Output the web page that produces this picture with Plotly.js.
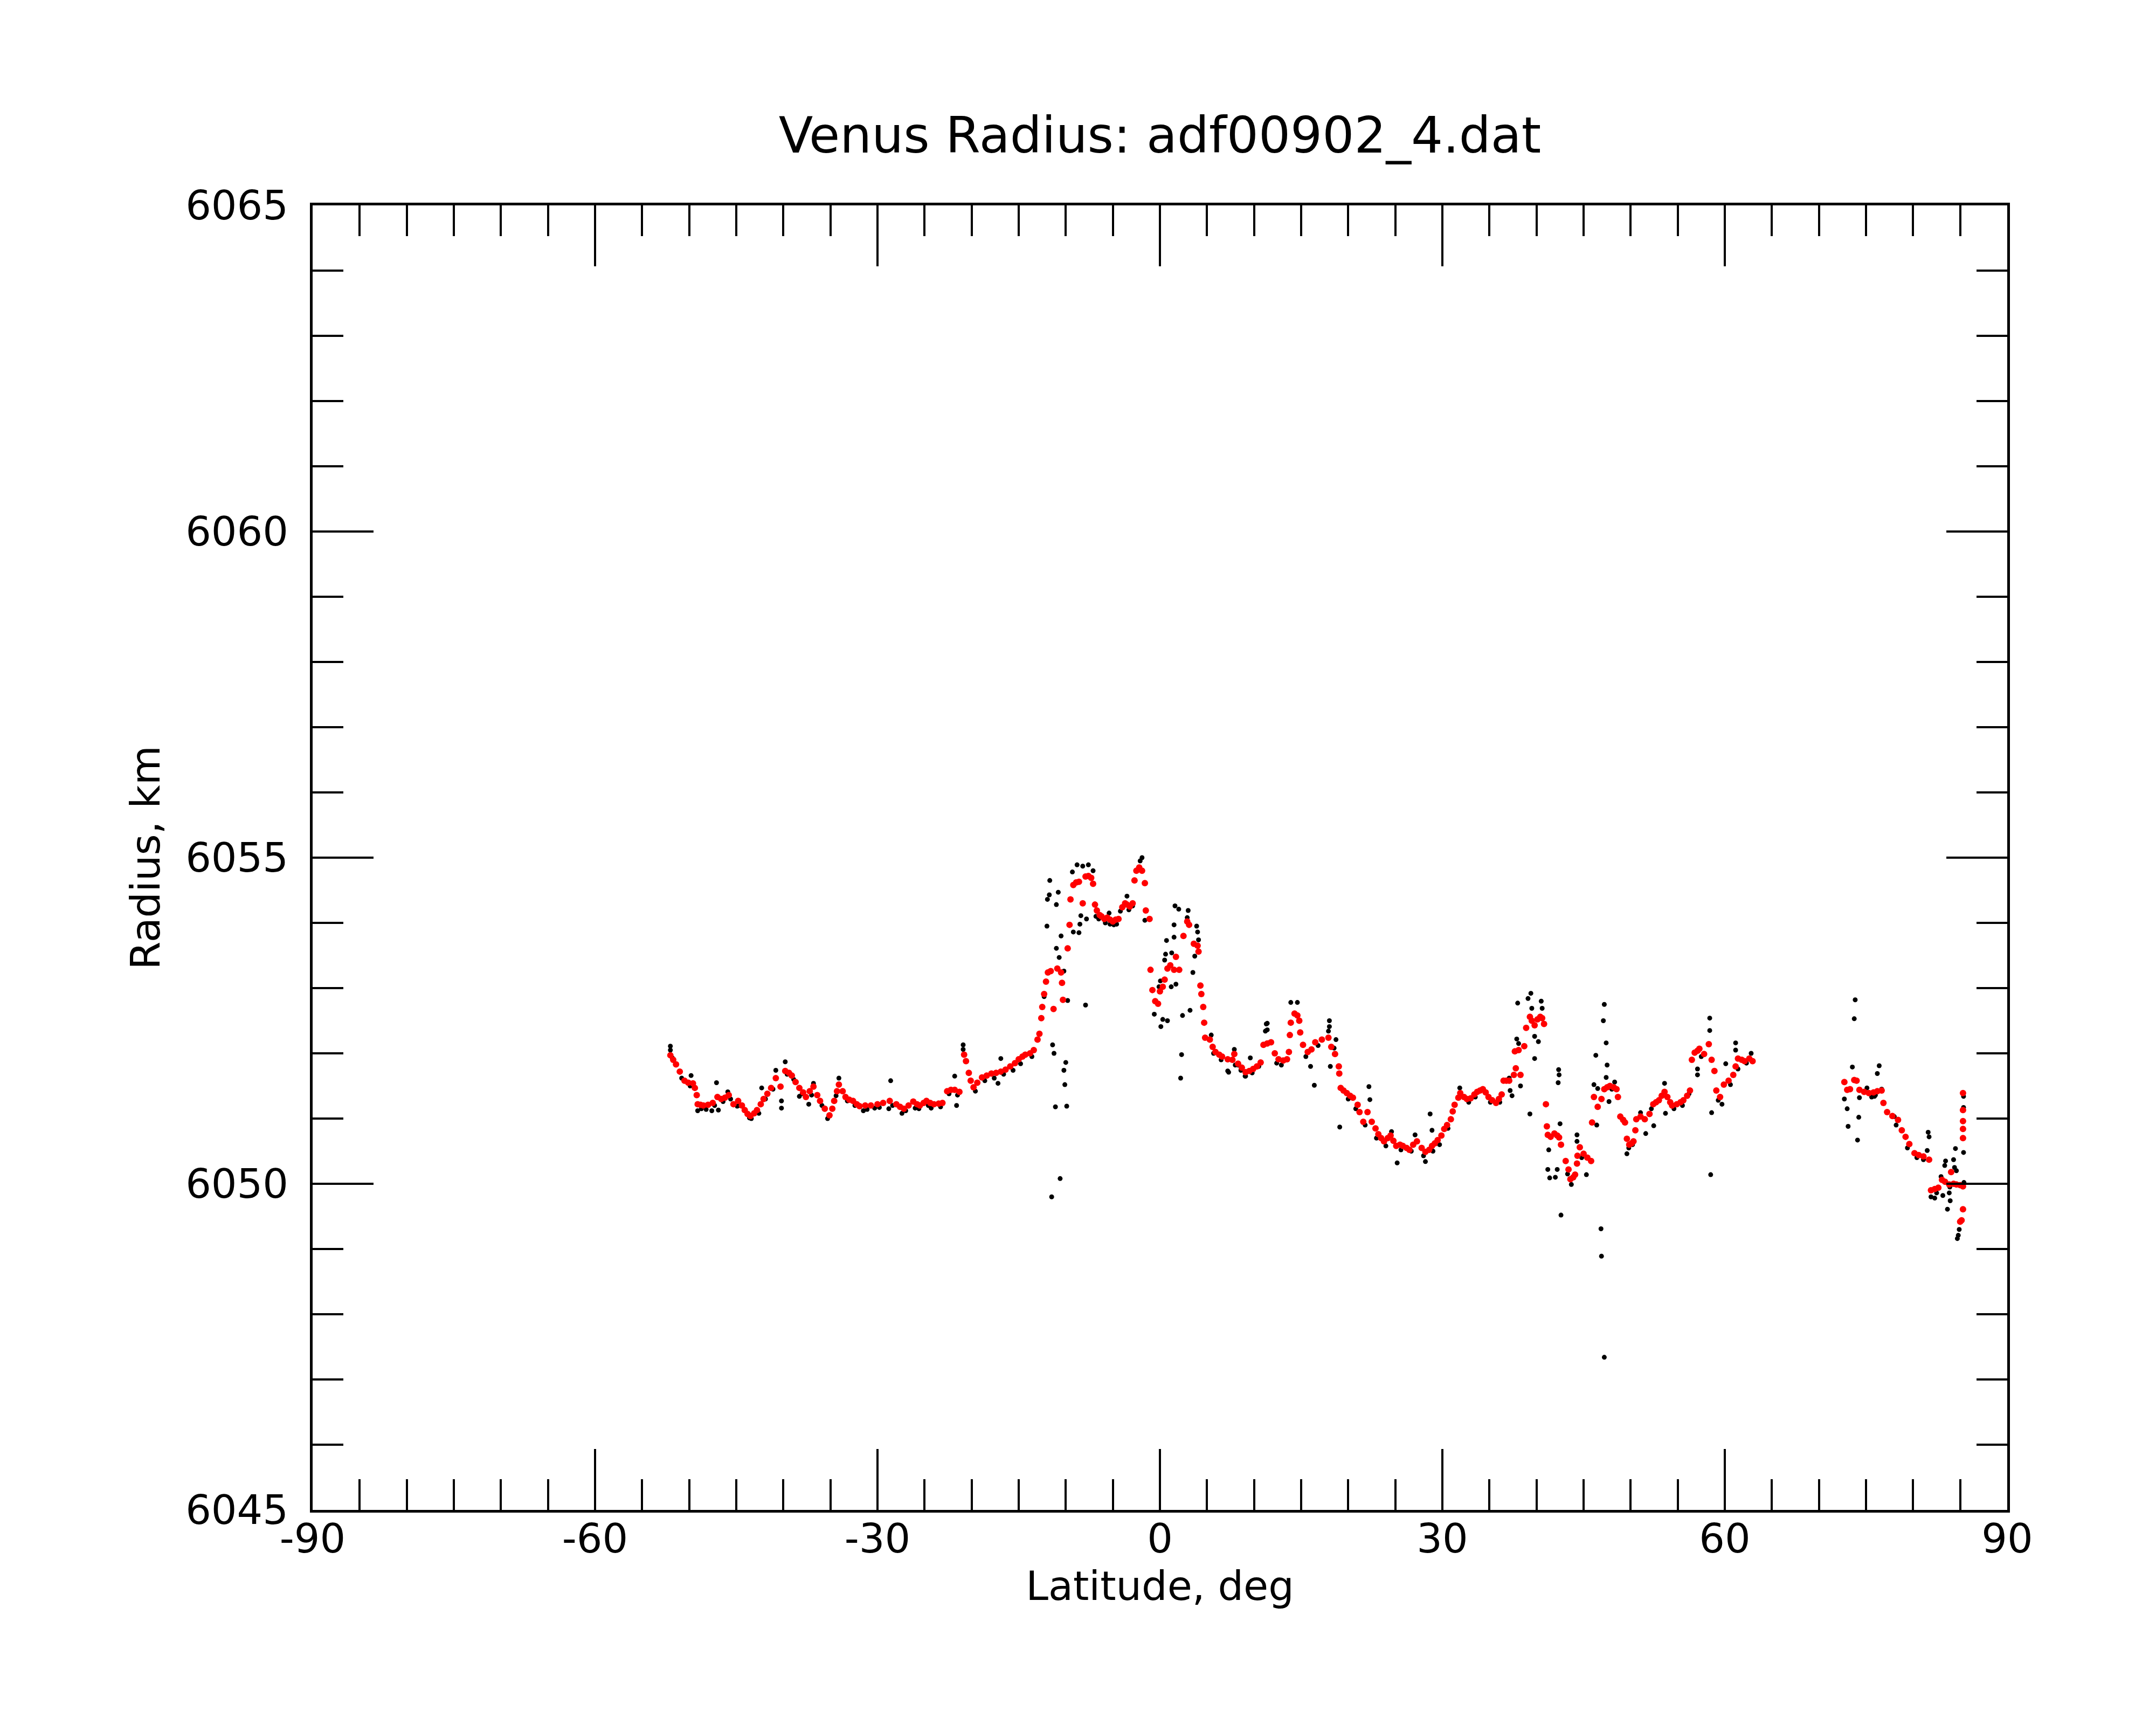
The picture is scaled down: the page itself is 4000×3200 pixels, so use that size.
<!DOCTYPE html>
<html>
<head>
<meta charset="utf-8">
<title>Venus Radius</title>
<script src="https://cdn.plot.ly/plotly-3.0.1.min.js"></script>
<style>
  body { margin: 0; background: #fff; }
  #container { width: 4000px; height: 3200px; }
</style>
</head>
<body>
<div id="container"></div>
<script>
// smoothed radius (red), [latitude deg, radius km]
const smoothSouth = [
  [-52.0, 6051.97], [-51.7, 6051.90], [-51.4, 6051.83], [-51.0, 6051.72], [-50.5, 6051.58],
  [-50.1, 6051.55], [-49.6, 6051.54], [-49.4, 6051.47], [-49.2, 6051.36], [-49.1, 6051.22],
  [-48.8, 6051.21], [-48.5, 6051.20], [-48.0, 6051.21], [-47.5, 6051.24], [-47.0, 6051.33],
  [-46.6, 6051.30], [-46.2, 6051.32], [-45.8, 6051.36], [-45.3, 6051.22], [-44.8, 6051.27],
  [-44.4, 6051.20], [-44.1, 6051.13], [-43.8, 6051.07], [-43.5, 6051.04], [-43.1, 6051.08],
  [-42.8, 6051.13], [-42.4, 6051.22], [-42.1, 6051.30], [-41.7, 6051.38], [-41.3, 6051.47],
  [-40.8, 6051.62], [-40.3, 6051.49], [-39.8, 6051.73], [-39.4, 6051.70], [-39.1, 6051.66],
  [-38.7, 6051.56], [-38.3, 6051.47], [-37.9, 6051.40], [-37.6, 6051.33], [-37.2, 6051.42],
  [-36.8, 6051.49], [-36.4, 6051.36], [-36.1, 6051.27], [-35.6, 6051.15], [-35.1, 6051.05],
  [-34.8, 6051.15], [-34.6, 6051.27], [-34.3, 6051.42], [-34.1, 6051.52], [-33.7, 6051.42],
  [-33.4, 6051.33], [-33.0, 6051.29], [-32.6, 6051.27], [-32.2, 6051.22], [-31.9, 6051.19],
  [-31.3, 6051.20], [-30.7, 6051.20], [-30.0, 6051.22], [-29.4, 6051.24], [-28.7, 6051.27],
  [-28.0, 6051.22], [-27.6, 6051.18], [-27.2, 6051.15], [-26.7, 6051.20], [-26.2, 6051.26],
  [-25.8, 6051.22], [-25.5, 6051.20], [-25.1, 6051.24], [-24.8, 6051.27], [-24.4, 6051.24],
  [-24.0, 6051.22], [-23.5, 6051.23], [-23.1, 6051.24], [-22.6, 6051.42], [-22.2, 6051.44],
  [-21.8, 6051.44], [-21.3, 6051.41], [-20.8, 6051.98], [-20.6, 6051.88], [-20.3, 6051.70],
  [-20.1, 6051.58], [-19.8, 6051.48], [-19.4, 6051.55], [-18.9, 6051.63], [-18.4, 6051.66],
  [-17.9, 6051.69], [-17.4, 6051.70], [-16.9, 6051.72], [-16.4, 6051.75], [-15.9, 6051.80],
  [-15.4, 6051.85], [-15.0, 6051.91], [-14.6, 6051.95], [-14.3, 6051.98], [-13.8, 6052.00],
  [-13.4, 6052.05], [-13.0, 6052.21], [-12.8, 6052.30], [-12.6, 6052.54], [-12.5, 6052.71],
  [-12.3, 6052.91], [-12.1, 6053.10], [-11.9, 6053.24], [-11.6, 6053.26], [-11.3, 6052.68],
  [-10.9, 6053.30], [-10.5, 6053.24], [-10.4, 6053.08], [-10.3, 6052.82], [-9.8, 6053.61],
  [-9.6, 6053.97], [-9.5, 6054.36], [-9.2, 6054.58], [-8.9, 6054.62], [-8.6, 6054.63],
  [-8.2, 6054.30], [-7.9, 6054.71], [-7.6, 6054.72], [-7.3, 6054.69], [-7.1, 6054.60],
  [-6.9, 6054.28], [-6.7, 6054.19], [-6.4, 6054.12], [-6.2, 6054.10], [-5.9, 6054.06],
  [-5.6, 6054.08], [-5.3, 6054.05], [-5.0, 6054.02], [-4.7, 6054.05], [-4.4, 6054.06],
  [-4.0, 6054.24], [-3.7, 6054.30], [-3.5, 6054.28], [-3.2, 6054.25], [-2.9, 6054.30],
  [-2.7, 6054.65], [-2.5, 6054.80], [-2.2, 6054.85], [-1.9, 6054.80], [-1.6, 6054.61],
  [-1.5, 6054.19], [-1.1, 6054.06], [-1.0, 6053.28], [-0.8, 6052.97], [-0.5, 6052.80],
  [-0.2, 6052.76]
];

const smoothNorth = [
  [0.0, 6052.95], [0.3, 6053.02], [0.5, 6053.13], [0.8, 6053.30], [1.1, 6053.35],
  [1.5, 6053.28], [1.7, 6053.48], [2.05, 6053.28], [2.5, 6053.80], [2.9, 6054.02],
  [3.1, 6053.97], [3.6, 6053.68], [4.0, 6053.65], [4.1, 6053.56], [4.3, 6053.04],
  [4.4, 6052.91], [4.6, 6052.71], [4.7, 6052.47], [4.8, 6052.24], [5.3, 6052.21],
  [5.6, 6052.10], [5.9, 6052.02], [6.3, 6051.98], [6.6, 6051.95], [7.2, 6051.91],
  [7.7, 6051.90], [7.9, 6051.99], [8.3, 6051.84], [8.7, 6051.78], [9.1, 6051.71],
  [9.5, 6051.73], [9.9, 6051.76], [10.3, 6051.80], [10.7, 6051.86], [11.0, 6052.13],
  [11.4, 6052.15], [11.8, 6052.17], [12.2, 6052.00], [12.6, 6051.91], [13.1, 6051.89],
  [13.5, 6051.91], [13.7, 6052.02], [13.8, 6052.28], [13.9, 6052.47], [14.3, 6052.61],
  [14.6, 6052.58], [14.8, 6052.50], [14.9, 6052.32], [15.2, 6052.13], [15.7, 6052.02],
  [16.1, 6052.06], [16.5, 6052.17], [17.2, 6052.21], [17.9, 6052.24], [18.2, 6052.10],
  [18.6, 6051.99], [19.0, 6051.80], [19.05, 6051.69], [19.2, 6051.47], [19.5, 6051.43],
  [19.85, 6051.39], [20.2, 6051.35], [20.5, 6051.32], [21.0, 6051.21], [21.2, 6051.10],
  [21.6, 6050.95], [22.05, 6051.10], [22.5, 6050.95], [22.9, 6050.85], [23.2, 6050.76],
  [23.5, 6050.70], [23.8, 6050.65], [24.2, 6050.70], [24.5, 6050.74], [24.8, 6050.66],
  [25.1, 6050.58], [25.5, 6050.60], [25.8, 6050.58], [26.2, 6050.55], [26.5, 6050.52],
  [26.9, 6050.60], [27.3, 6050.65], [27.8, 6050.55], [28.2, 6050.49], [28.6, 6050.52],
  [28.9, 6050.58], [29.2, 6050.62], [29.5, 6050.67], [29.9, 6050.74], [30.2, 6050.84],
  [30.5, 6050.90], [30.9, 6050.99], [31.1, 6051.11], [31.3, 6051.21], [31.7, 6051.32],
  [31.9, 6051.39], [32.3, 6051.33], [32.6, 6051.30], [33.0, 6051.31], [33.4, 6051.37],
  [33.7, 6051.41], [34.0, 6051.43], [34.3, 6051.45], [34.6, 6051.40], [34.9, 6051.33],
  [35.3, 6051.28], [35.7, 6051.24], [36.0, 6051.30], [36.3, 6051.37], [36.5, 6051.58],
  [36.8, 6051.58], [37.1, 6051.58], [37.6, 6051.67], [37.8, 6051.77], [38.3, 6051.67],
  [37.7, 6052.03], [38.1, 6052.05], [38.7, 6052.11], [38.9, 6052.39], [39.3, 6052.56],
  [39.5, 6052.50], [39.8, 6052.43], [40.1, 6052.52], [40.4, 6052.56], [40.6, 6052.54],
  [40.8, 6052.45], [41.0, 6051.22], [41.1, 6050.88], [41.2, 6050.75], [41.5, 6050.72],
  [41.9, 6050.77], [42.2, 6050.74], [42.4, 6050.71], [42.6, 6050.60], [43.1, 6050.35],
  [43.4, 6050.22], [43.6, 6050.07], [43.9, 6050.10], [44.1, 6050.14], [44.3, 6050.31],
  [44.35, 6050.43], [44.6, 6050.56], [45.0, 6050.46], [45.4, 6050.40], [45.8, 6050.35],
  [45.9, 6050.94], [46.1, 6051.33], [46.5, 6051.18], [46.9, 6051.30], [47.2, 6051.45],
  [47.5, 6051.48], [47.8, 6051.50], [48.2, 6051.48], [48.5, 6051.45], [48.65, 6051.33],
  [48.9, 6051.03], [49.2, 6050.98], [49.4, 6050.94], [49.6, 6050.69], [49.85, 6050.60],
  [50.1, 6050.62], [50.3, 6050.65], [50.5, 6050.82], [50.6, 6050.99], [51.05, 6051.03],
  [51.5, 6050.99], [52.0, 6051.07], [52.4, 6051.22], [52.7, 6051.25], [53.0, 6051.28],
  [53.3, 6051.35], [53.6, 6051.41], [53.9, 6051.33], [54.2, 6051.25], [54.4, 6051.20],
  [54.9, 6051.22], [55.3, 6051.25], [55.6, 6051.28], [56.0, 6051.35], [56.3, 6051.43],
  [56.5, 6051.90], [56.8, 6052.01], [57.1, 6052.04], [57.3, 6052.07], [57.8, 6051.99],
  [58.3, 6052.14], [58.6, 6051.90], [58.9, 6051.73], [59.1, 6051.43], [59.5, 6051.33],
  [59.9, 6051.52], [60.4, 6051.58], [60.9, 6051.67], [61.15, 6051.80], [61.4, 6051.92],
  [61.8, 6051.90], [62.1, 6051.88], [62.6, 6051.92], [62.95, 6051.88]
];

const smoothPolar = [
  [72.7, 6051.56], [73.0, 6051.44], [73.3, 6051.45], [73.75, 6051.59], [74.0, 6051.58],
  [74.3, 6051.44], [74.8, 6051.41], [75.3, 6051.39], [75.8, 6051.40], [76.2, 6051.42],
  [76.66, 6051.43], [76.85, 6051.24], [77.24, 6051.10], [77.8, 6051.04], [78.4, 6050.98],
  [78.8, 6050.82], [79.2, 6050.72], [79.6, 6050.61], [80.15, 6050.47], [80.6, 6050.44],
  [81.1, 6050.42], [81.7, 6050.37], [81.9, 6049.90], [82.3, 6049.92], [82.68, 6049.94],
  [83.07, 6050.06], [83.4, 6050.03], [83.84, 6049.99], [84.04, 6050.18], [84.3, 6050.00],
  [84.6, 6049.99], [85.0, 6049.98], [85.3, 6049.96], [85.3, 6051.39], [85.3, 6051.13],
  [85.3, 6050.96], [85.3, 6050.84], [85.3, 6050.70], [85.3, 6049.61], [85.0, 6049.42],
  [85.15, 6049.44]
];

// raw radius samples (black)
const rawSouth = [
  [-52.0, 6052.11], [-52.0, 6052.05], [-49.8, 6051.66], [-49.1, 6051.12], [-47.6, 6051.12],
  [-46.9, 6051.13], [-47.1, 6051.55], [-45.9, 6051.41], [-44.9, 6051.19], [-43.6, 6051.01],
  [-42.3, 6051.47], [-40.8, 6051.74], [-39.8, 6051.87], [-40.2, 6051.27], [-40.2, 6051.16],
  [-38.3, 6051.34], [-37.3, 6051.22], [-36.8, 6051.54], [-35.1, 6051.04], [-34.1, 6051.62],
  [-31.5, 6051.12], [-28.6, 6051.58], [-28.8, 6051.15], [-27.4, 6051.08], [-30.3, 6051.16],
  [-26.0, 6051.16], [-24.3, 6051.16], [-21.6, 6051.20], [-20.9, 6052.13], [-20.9, 6052.06],
  [-21.8, 6051.65], [-17.2, 6051.54], [-16.9, 6051.92],
  [-11.7, 6054.65], [-11.75, 6054.43], [-11.95, 6054.36], [-10.8, 6054.47], [-11.0, 6054.28],
  [-12.0, 6053.95], [-10.5, 6053.80], [-11.0, 6053.61], [-10.7, 6053.47], [-10.2, 6053.26],
  [-12.3, 6052.87], [-9.8, 6052.81], [-7.9, 6052.74], [-11.4, 6052.13], [-11.25, 6052.00],
  [-10.0, 6051.86], [-10.2, 6051.74], [-10.1, 6051.52], [-11.1, 6051.18], [-9.9, 6051.19],
  [-10.6, 6050.08], [-11.5, 6049.80],
  [-8.8, 6054.89], [-9.3, 6054.78], [-8.2, 6054.87], [-7.6, 6054.89], [-7.1, 6054.80],
  [-8.4, 6054.11], [-7.8, 6054.06], [-8.5, 6053.98], [-9.2, 6053.86], [-8.6, 6053.85],
  [-6.8, 6054.10], [-5.3, 6053.98], [-4.6, 6053.98], [-5.4, 6054.15], [-3.5, 6054.41],
  [-2.9, 6054.26], [-1.9, 6055.00], [-2.1, 6054.95], [-1.6, 6054.04]
];

const rawNorth = [
  [1.6, 6054.26], [2.0, 6054.21], [3.0, 6054.19], [2.9, 6054.08], [1.5, 6053.97],
  [0.7, 6053.73], [1.5, 6053.78], [3.9, 6053.95], [4.0, 6053.86], [4.1, 6053.74],
  [0.6, 6053.52], [1.25, 6053.54], [0.5, 6053.43], [3.7, 6053.49], [0.05, 6053.11],
  [3.5, 6053.24], [1.2, 6053.02], [1.7, 6053.06], [-0.1, 6053.02], [-0.6, 6052.60],
  [0.3, 6052.52], [0.8, 6052.50], [0.1, 6052.41], [2.4, 6052.58], [3.2, 6052.66],
  [2.3, 6051.98], [2.2, 6051.62], [5.45, 6052.28], [7.2, 6051.73], [7.9, 6052.06],
  [8.0, 6051.82], [9.1, 6051.65], [9.6, 6051.93], [11.3, 6052.45], [11.2, 6052.34],
  [13.9, 6052.78], [14.6, 6052.78], [14.25, 6052.61], [18.0, 6052.50], [18.0, 6052.41],
  [17.9, 6052.34], [18.7, 6052.21], [18.5, 6052.08], [11.4, 6052.46], [11.4, 6052.36],
  [16.0, 6051.80], [18.1, 6051.80], [16.4, 6051.51], [19.1, 6050.87], [22.2, 6051.49],
  [22.3, 6051.29], [28.7, 6051.07], [28.9, 6050.82], [25.2, 6050.32], [28.2, 6050.34],
  [31.85, 6051.47], [27.1, 6050.75], [24.6, 6050.80], [7.3, 6051.71], [9.05, 6051.65],
  [8.3, 6051.82],
  [39.4, 6052.92], [39.1, 6052.84], [38.0, 6052.77], [40.5, 6052.80], [40.6, 6052.69],
  [39.5, 6052.69], [39.8, 6052.26], [40.2, 6052.18], [39.8, 6051.92], [37.9, 6052.22],
  [38.1, 6052.15], [37.1, 6051.62], [37.4, 6051.35], [38.3, 6051.50], [37.2, 6051.43],
  [39.3, 6051.07], [42.35, 6051.75], [42.4, 6051.67], [42.3, 6051.55], [42.6, 6049.52],
  [41.3, 6050.52], [41.2, 6050.22], [42.2, 6050.22], [41.4, 6050.09], [42.0, 6050.10],
  [42.5, 6050.92], [44.3, 6050.75], [44.3, 6050.65], [45.3, 6050.14], [47.2, 6052.75],
  [47.1, 6052.50], [47.4, 6052.16], [47.5, 6051.82], [46.3, 6051.97], [47.4, 6051.63],
  [46.1, 6051.52], [46.5, 6051.46], [48.3, 6051.56], [47.7, 6051.26], [46.4, 6050.90],
  [46.85, 6049.31], [46.9, 6048.89], [47.2, 6047.34], [43.7, 6049.99], [49.6, 6050.46],
  [51.05, 6051.09], [51.6, 6050.77], [52.45, 6050.89], [53.7, 6051.08], [53.6, 6051.54],
  [57.1, 6051.67], [57.1, 6051.76], [58.4, 6052.54], [58.4, 6052.35], [58.6, 6051.09],
  [58.5, 6050.14], [60.1, 6051.84], [59.7, 6051.22], [61.15, 6052.16], [61.15, 6052.05],
  [61.4, 6051.76], [62.8, 6052.00]
];

const rawPolar = [
  [73.85, 6052.82], [73.75, 6052.53], [73.55, 6051.79], [72.7, 6051.30], [73.0, 6051.15],
  [73.1, 6050.88], [74.23, 6051.02], [74.1, 6050.67], [74.3, 6051.32], [75.9, 6051.34],
  [75.1, 6051.47], [76.4, 6051.81], [76.2, 6051.69], [76.66, 6051.45], [78.0, 6051.03],
  [81.6, 6050.79], [81.7, 6050.72], [81.5, 6050.51], [81.1, 6050.37], [83.45, 6050.35],
  [83.36, 6050.28], [84.5, 6050.54], [84.3, 6050.37], [84.4, 6050.25], [84.6, 6050.20],
  [82.97, 6050.11], [83.16, 6049.82], [83.84, 6049.86], [83.94, 6049.74], [83.65, 6049.61],
  [81.9, 6049.80], [82.3, 6049.78], [84.8, 6049.21], [84.9, 6049.30], [84.7, 6049.16],
  [85.36, 6051.34], [85.36, 6051.17], [85.36, 6050.48], [85.4, 6050.02]
];

// raw samples hidden just under the smoothed curve
const rawUnder = [
  [-51.8, 6051.93], [-50.8, 6051.62], [-49.9, 6051.50], [-48.7, 6051.15], [-48.2, 6051.14],
  [-47.3, 6051.20], [-46.4, 6051.26], [-45.6, 6051.30], [-44.6, 6051.20], [-43.4, 6051.00],
  [-42.6, 6051.08], [-41.9, 6051.30], [-41.1, 6051.45], [-39.6, 6051.68], [-38.9, 6051.60],
  [-38.0, 6051.38], [-37.0, 6051.36], [-35.9, 6051.20], [-35.3, 6051.00], [-34.4, 6051.35],
  [-33.2, 6051.27], [-32.4, 6051.20], [-31.1, 6051.14], [-29.8, 6051.17], [-28.4, 6051.20],
  [-27.0, 6051.12], [-25.6, 6051.15], [-24.6, 6051.20], [-23.3, 6051.18], [-22.4, 6051.38],
  [-21.5, 6051.36], [-19.6, 6051.42], [-18.6, 6051.58], [-17.6, 6051.62], [-16.6, 6051.68],
  [-15.6, 6051.74], [-14.8, 6051.84], [-13.6, 6051.95], [-6.5, 6054.06], [-5.8, 6054.00],
  [-4.9, 6053.97], [-4.2, 6054.18], [-3.3, 6054.20], [5.7, 6052.00], [6.5, 6051.90],
  [8.6, 6051.74], [9.8, 6051.70], [10.5, 6051.80], [12.4, 6051.85], [12.9, 6051.82],
  [15.5, 6051.95], [16.8, 6052.12], [20.0, 6051.30], [20.8, 6051.15], [21.8, 6050.90],
  [23.0, 6050.70], [24.0, 6050.58], [25.6, 6050.52], [26.7, 6050.50], [28.0, 6050.43],
  [29.0, 6050.50], [29.7, 6050.60], [30.6, 6050.85], [32.8, 6051.25], [33.5, 6051.33],
  [35.1, 6051.25], [36.1, 6051.25], [43.3, 6050.15], [44.8, 6050.40], [48.0, 6051.45],
  [49.8, 6050.55], [50.2, 6050.60], [52.2, 6051.15], [54.6, 6051.15], [55.5, 6051.20],
  [56.2, 6051.38], [57.5, 6051.95], [59.3, 6051.28], [60.6, 6051.52], [62.3, 6051.85],
  [75.6, 6051.33], [76.0, 6051.36], [78.2, 6050.90], [79.4, 6050.55], [80.4, 6050.40],
  [82.5, 6049.86], [83.9, 6049.95]
];

const latTicks = [-90, -60, -30, 0, 30, 60, 90];
const radTicks = [6045, 6050, 6055, 6060, 6065];

const raw = rawSouth.concat(rawNorth, rawPolar, rawUnder);
const smooth = smoothSouth.concat(smoothNorth, smoothPolar);

const data = [
  {
    x: raw.map(p => p[0]),
    y: raw.map(p => p[1]),
    mode: "markers",
    type: "scatter",
    marker: { size: 9, color: "#000000" },
    hoverinfo: "skip"
  },
  {
    x: smooth.map(p => p[0]),
    y: smooth.map(p => p[1]),
    mode: "markers",
    type: "scatter",
    marker: { size: 12, color: "#ff0000" },
    hoverinfo: "skip"
  }
];

const font = "DejaVu Sans, Liberation Sans, sans-serif";

const axisCommon = {
  showline: true,
  linecolor: "#000",
  linewidth: 5,
  mirror: "allticks",
  ticks: "inside",
  ticklen: 113,
  tickwidth: 4,
  tickcolor: "#000",
  showgrid: false,
  zeroline: false,
  tickfont: { family: font, size: 75, color: "#000" }
};

const layout = {
  width: 4000,
  height: 3200,
  paper_bgcolor: "#fff",
  plot_bgcolor: "#fff",
  showlegend: false,
  margin: { l: 580, r: 276, t: 381, b: 399 },
  title: {
    text: "Venus Radius: adf00902_4.dat",
    font: { family: font, size: 93, color: "#000" },
    x: 0.5,
    xref: "paper",
    y: 1 - 250 / 3200,
    yref: "container",
    yanchor: "middle"
  },
  xaxis: Object.assign({}, axisCommon, {
    range: [-90, 90],
    tickvals: latTicks,
    ticktext: latTicks.map(String),
    ticklabelstandoff: -16,
    minor: { dtick: 5, tick0: -90, ticks: "inside", ticklen: 57, tickwidth: 4, tickcolor: "#000" },
    title: { text: "Latitude, deg", font: { family: font, size: 75, color: "#000" }, standoff: 18 }
  }),
  yaxis: Object.assign({}, axisCommon, {
    range: [6045, 6065],
    tickvals: radTicks,
    ticktext: radTicks.map(String),
    ticklabelstandoff: 25,
    minor: { dtick: 1, tick0: 6045, ticks: "inside", ticklen: 57, tickwidth: 4, tickcolor: "#000" },
    title: { text: "Radius, km", font: { family: font, size: 75, color: "#000" }, standoff: 24 }
  })
};

Plotly.newPlot("container", data, layout, { displayModeBar: false, staticPlot: true });
</script>
</body>
</html>
